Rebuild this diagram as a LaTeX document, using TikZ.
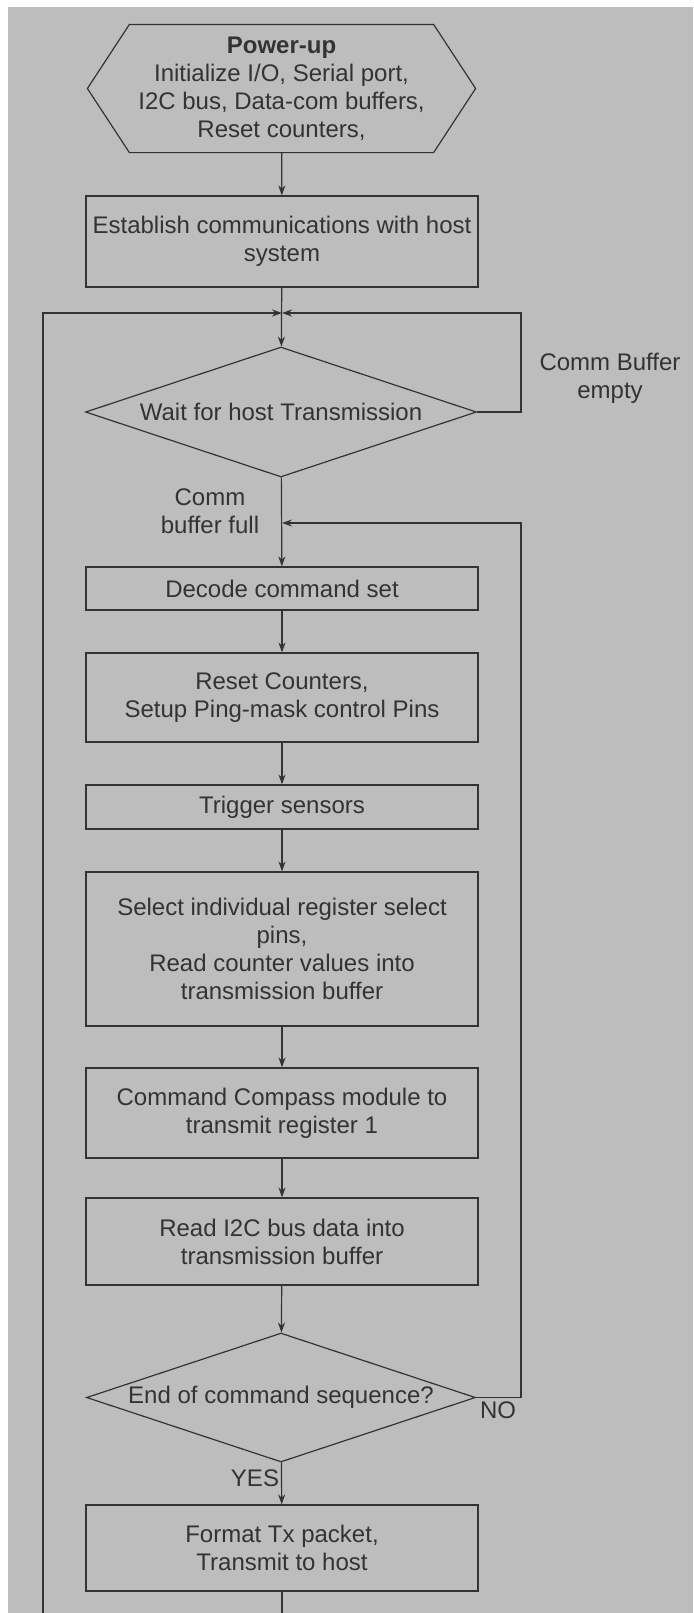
\documentclass[tikz,border=0pt]{standalone}
\usepackage{fontspec}
\setmainfont{Liberation Sans}
\usetikzlibrary{shapes.geometric,arrows.meta}
\definecolor{scangray}{gray}{0.74}

\begin{document}
\begin{tikzpicture}[x=0.5pt,y=-0.5pt,line width=0.6pt,black!80,
    font=\fontsize{12}{14}\selectfont,
    pbox/.style={draw,rectangle,inner sep=0pt,minimum width=196pt,align=center},
    pdec/.style={draw,diamond,aspect=3,inner sep=0pt,align=center},
    flow/.style={-{Stealth[length=5pt,width=3.5pt]}},
    lbl/.style={align=center}]
    \useasboundingbox(0,0)rectangle(693,1613);
    \fill[white](0,0)rectangle(693,1613);
    \fill[scangray](8,7)rectangle(693,1613);

    % start block
    \node[inner sep=0pt,minimum width=193.5pt,minimum height=63.5pt,align=center](pwr)at(281.5,88.5)
        {\textbf{Power-up}\\Initialize I/O, Serial port,\\I2C bus, Data-com buffers,\\Reset counters,};
    \draw([xshift=21pt]pwr.north west)--([xshift=-21pt]pwr.north east)--(pwr.east)
        --([xshift=-21pt]pwr.south east)--([xshift=21pt]pwr.south west)--(pwr.west)--cycle;

    \node[pbox,minimum height=45.5pt](est)at(282,241.5){Establish communications with host\\system};
    \node[pdec,minimum width=195.5pt,minimum height=65pt](wait)at(281,412){Wait for host Transmission};
    \node[pbox,minimum height=21.5pt](dec)at(282,588.5){Decode command set};
    \node[pbox,minimum height=44.5pt](rst)at(282,697.5){Reset Counters,\\Setup Ping-mask control Pins};
    \node[pbox,minimum height=22pt](trg)at(282,807){Trigger sensors};
    \node[pbox,minimum height=77pt](sel)at(282,949)
        {Select individual register select\\pins,\\Read counter values into\\transmission buffer};
    \node[pbox,minimum height=45pt](cmd)at(282,1113){Command Compass module to\\transmit register 1};
    \node[pbox,minimum height=43.5pt](rdi)at(282,1241.5){Read I2C bus data into\\transmission buffer};
    \node[pdec,minimum width=194.5pt,minimum height=64.5pt](endq)at(281,1397.5){End of command sequence?};
    \node[pbox,minimum height=43pt](fmt)at(282,1548){Format Tx packet,\\Transmit to host};

    % labels
    \node[lbl]at(610,378){Comm Buffer\\empty};
    \node[lbl]at(210,511){Comm\\buffer full};
    \node at(498,1410){NO};
    \node at(255,1478){YES};

    % loop points
    \coordinate(join)at(282,313);
    \coordinate(rtop)at(521,313);
    \coordinate(nojoin)at(282,523);
    \coordinate(rmid)at(521,523);
    \coordinate(lbot)at(43,1613);
    \coordinate(cbot)at(282,1613);

    \draw[flow](pwr)--(est);
    \draw[flow](est)--(wait);
    \draw[flow](lbot)|-(join);
    \draw[flow](wait.east)-|(rtop)--(join);
    \draw[flow](wait)--(dec);
    \draw[flow](endq.east)-|(rmid)--(nojoin);
    \draw[flow](dec)--(rst);
    \draw[flow](rst)--(trg);
    \draw[flow](trg)--(sel);
    \draw[flow](sel)--(cmd);
    \draw[flow](cmd)--(rdi);
    \draw[flow](rdi)--(endq);
    \draw[flow](endq)--(fmt);
    \draw(fmt)--(cbot);
\end{tikzpicture}
\end{document}
